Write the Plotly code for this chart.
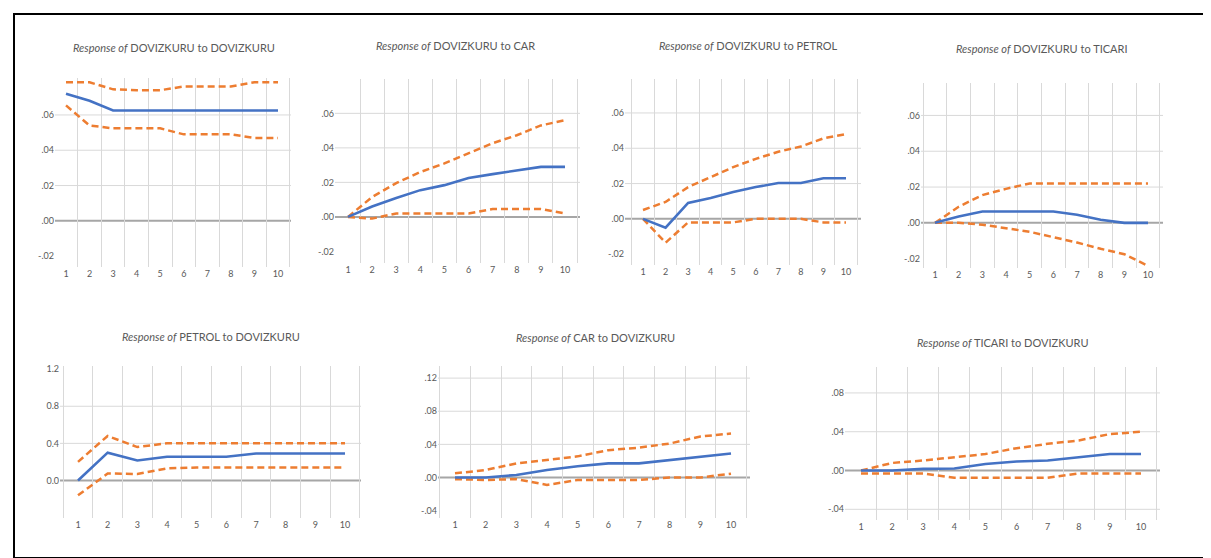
import plotly.graph_objects as go

periods = [1, 2, 3, 4, 5, 6, 7, 8, 9, 10]

titles = [
    "Response of DOVIZKURU to DOVIZKURU",
    "Response of DOVIZKURU to CAR",
    "Response of DOVIZKURU to PETROL",
    "Response of DOVIZKURU to TICARI",
    "Response of PETROL to DOVIZKURU",
    "Response of CAR to DOVIZKURU",
    "Response of TICARI to DOVIZKURU",
]

# Panel 1: DOVIZKURU -> DOVIZKURU
dk_dk = [0.072, 0.068, 0.0625, 0.0625, 0.0625, 0.0625, 0.0625, 0.0625, 0.0625, 0.0625]
dk_dk_up = [0.0785, 0.0785, 0.0745, 0.0740, 0.0740, 0.0761, 0.0761, 0.0761, 0.0785, 0.0785]
dk_dk_lo = [0.0654, 0.054, 0.0524, 0.0524, 0.0524, 0.049, 0.049, 0.049, 0.047, 0.047]

# Panel 2: DOVIZKURU -> CAR
dk_car = [0.0, 0.006, 0.011, 0.0155, 0.0184, 0.0225, 0.0248, 0.027, 0.029, 0.029]
dk_car_up = [0.0, 0.0115, 0.0196, 0.026, 0.031, 0.0369, 0.0427, 0.0473, 0.053, 0.056]
dk_car_lo = [0.0, -0.001, 0.002, 0.002, 0.002, 0.002, 0.0045, 0.0045, 0.0045, 0.002]

# Panel 3: DOVIZKURU -> PETROL
dk_pet = [0.0, -0.005, 0.009, 0.0118, 0.0152, 0.018, 0.0203, 0.0203, 0.023, 0.023]
dk_pet_up = [0.005, 0.0096, 0.018, 0.0237, 0.0293, 0.034, 0.038, 0.041, 0.0456, 0.048]
dk_pet_lo = [0.0, -0.0135, -0.002, -0.002, -0.002, 0.0, 0.0, 0.0, -0.002, -0.002]

# Panel 4: DOVIZKURU -> TICARI
dk_tic = [0.0, 0.0035, 0.0063, 0.0063, 0.0063, 0.0063, 0.0045, 0.0017, 0.0, 0.0]
dk_tic_up = [0.0, 0.009, 0.0155, 0.019, 0.022, 0.022, 0.022, 0.022, 0.022, 0.022]
dk_tic_lo = [0.0, 0.0, -0.001, -0.003, -0.005, -0.008, -0.011, -0.0145, -0.0175, -0.024]

# Panel 5: PETROL -> DOVIZKURU
pet_dk = [0.0, 0.30, 0.215, 0.255, 0.255, 0.255, 0.29, 0.29, 0.29, 0.29]
pet_dk_up = [0.2, 0.48, 0.36, 0.40, 0.40, 0.40, 0.40, 0.40, 0.40, 0.40]
pet_dk_lo = [-0.16, 0.075, 0.07, 0.13, 0.14, 0.14, 0.14, 0.14, 0.14, 0.14]

# Panel 6: CAR -> DOVIZKURU
car_dk = [0.0, 0.0, 0.003, 0.009, 0.0135, 0.017, 0.017, 0.021, 0.0255, 0.029]
car_dk_up = [0.005, 0.009, 0.017, 0.021, 0.0255, 0.033, 0.036, 0.041, 0.0495, 0.053]
car_dk_lo = [-0.002, -0.003, -0.002, -0.009, -0.003, -0.003, -0.003, 0.0, 0.0, 0.0045]

# Panel 7: TICARI -> DOVIZKURU
tic_dk = [0.0, 0.0, 0.0017, 0.002, 0.0068, 0.0093, 0.0103, 0.0137, 0.017, 0.017]
tic_dk_up = [0.0, 0.0078, 0.0103, 0.0137, 0.017, 0.023, 0.0275, 0.031, 0.0376, 0.040]
tic_dk_lo = [-0.003, -0.003, -0.003, -0.0075, -0.0075, -0.0075, -0.0075, -0.003, -0.003, -0.003]

# y tick values / labels
yt_top = [0.06, 0.04, 0.02, 0.0, -0.02]
yl_top = [".06", ".04", ".02", ".00", "-.02"]
yt_p5 = [1.2, 0.8, 0.4, 0.0]
yl_p5 = ["1.2", "0.8", "0.4", "0.0"]
yt_p6 = [0.12, 0.08, 0.04, 0.0, -0.04]
yl_p6 = [".12", ".08", ".04", ".00", "-.04"]
yt_p7 = [0.08, 0.04, 0.0, -0.04]
yl_p7 = [".08", ".04", ".00", "-.04"]

series = [
    (dk_dk, dk_dk_up, dk_dk_lo, yt_top, yl_top),
    (dk_car, dk_car_up, dk_car_lo, yt_top, yl_top),
    (dk_pet, dk_pet_up, dk_pet_lo, yt_top, yl_top),
    (dk_tic, dk_tic_up, dk_tic_lo, yt_top, yl_top),
    (pet_dk, pet_dk_up, pet_dk_lo, yt_p5, yl_p5),
    (car_dk, car_dk_up, car_dk_lo, yt_p6, yl_p6),
    (tic_dk, tic_dk_up, tic_dk_lo, yt_p7, yl_p7),
]

# layout (pixels): left, right, top, bottom, px of cat1, px of cat10, px of zero, px per tick step,
# tick step, title x, title y, index of tick label that has no gridline (None = all have)
W, H = 1211, 558
panels = [
    (47, 283, 67, 257, 58, 270, 211, 35.5, 0.02, 166, 37, 4),
    (327, 572, 68, 253, 340, 557, 207, 34.7, 0.02, 447, 35, 4),
    (617, 853, 68, 255, 635, 838, 209, 35.5, 0.02, 740, 35, 4),
    (913, 1155, 72, 258, 927, 1140, 213, 36.0, 0.02, 1033, 38, 4),
    (52, 353, 357, 510, 70, 337, 472, 37.3, 0.4, 203, 327, 0),
    (430, 742, 357, 510, 447, 723, 469, 33.3, 0.04, 587, 328, 4),
    (837, 1152, 358, 512, 853, 1133, 462, 39.0, 0.04, 995, 333, None),
]

BLUE = "#4472C4"
ORANGE = "#ED7D31"
GRID = "#D9D9D9"
ZERO = "#A6A6A6"
TXT = "#595959"
FONT = "Lato"

fig = go.Figure()
shapes = []
annotations = []

for i, (pan, ser) in enumerate(zip(panels, series)):
    n = i + 1
    L, R, T, B, c1, c10, z, step_px, step, tx, ty, nogrid = pan
    mid, up, lo, ytv, ytl = ser
    xs = "" if n == 1 else str(n)
    xname, yname = "x" + xs, "y" + xs
    cw = (c10 - c1) / 9.0
    xr = [1 - (c1 - L) / cw, 10 + (R - c10) / cw]
    yr = [-(B - z) / step_px * step, (z - T) / step_px * step]

    for vals, col, dash, w in [(up, ORANGE, "7px,4px", 2.5), (lo, ORANGE, "7px,4px", 2.5), (mid, BLUE, "solid", 2.6)]:
        fig.add_trace(go.Scatter(x=periods, y=vals, mode="lines", xaxis=xname, yaxis=yname,
                                 line=dict(color=col, width=w, dash=dash), showlegend=False,
                                 hoverinfo="skip"))

    fig.layout["xaxis" + xs] = dict(
        domain=[L / W, R / W], range=xr, anchor=yname, tickvals=periods,
        ticktext=[str(p) for p in periods], showgrid=False, zeroline=False, showline=False,
        ticks="", tickfont=dict(size=9, color=TXT, family=FONT), fixedrange=True,
        minor=dict(tick0=0.5, dtick=1, showgrid=True, gridcolor=GRID, gridwidth=1, ticks=""),
    )
    fig.layout["yaxis" + xs] = dict(
        domain=[1 - B / H, 1 - T / H], range=yr, anchor=xname, tickvals=ytv, ticktext=ytl,
        showgrid=False, zeroline=False, showline=False, ticks="",
        tickfont=dict(size=9, color=TXT, family=FONT), fixedrange=True,
    )
    for k, v in enumerate(ytv):
        if nogrid is not None and k == nogrid:
            continue
        shapes.append(dict(type="line", xref=xname + " domain", yref=yname, x0=0, x1=1, y0=v, y1=v,
                           line=dict(color=ZERO if v == 0 else GRID, width=2 if v == 0 else 1),
                           layer="below"))
    annotations.append(dict(x=tx / W, y=1 - ty / H, xref="paper", yref="paper", showarrow=False,
                            xanchor="center", yanchor="middle",
                            text=titles[i].replace("Response of", "<i>Response of</i>"),
                            font=dict(size=11, color=TXT, family=FONT)))

shapes.append(dict(type="rect", xref="paper", yref="paper", x0=6 / W, x1=1204 / W, y0=1 - 550 / H, y1=1 - 3 / H,
                   line=dict(color="black", width=2), fillcolor="rgba(0,0,0,0)"))

fig.update_layout(width=W, height=H, margin=dict(l=0, r=0, t=0, b=0), paper_bgcolor="white",
                  plot_bgcolor="white", shapes=shapes, annotations=annotations, showlegend=False)

fig.write_html("out.html")
